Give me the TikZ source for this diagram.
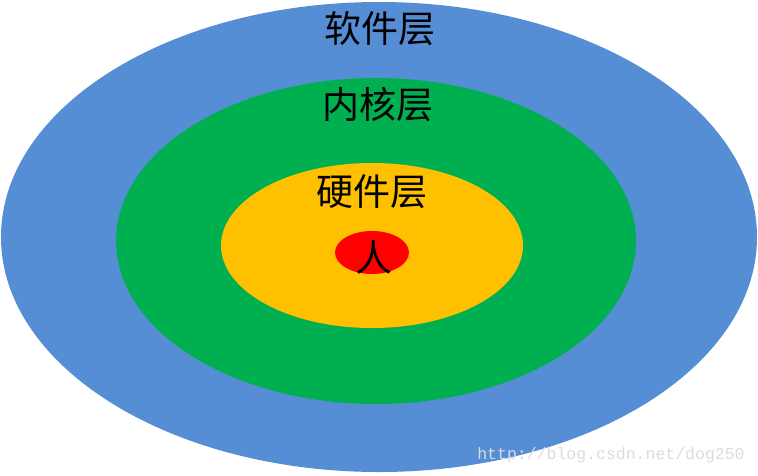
\documentclass[tikz,border=0pt]{standalone}
\usepackage{fontspec}
\newfontfamily\cjk{Noto Sans CJK SC}
\newfontfamily\wmfont{Liberation Mono}
\definecolor{outerblue}{HTML}{558ED5}
\definecolor{kgreen}{HTML}{00B050}
\definecolor{hyellow}{HTML}{FFC000}
\definecolor{pred}{HTML}{FF0000}
\definecolor{wmgray}{HTML}{DCDCDC}
\tikzset{
  layerlabel/.style={font=\cjk\fontsize{37}{40}\selectfont, text=black, inner sep=0pt},
  layer/.style={draw=none}
}
\begin{document}
\begin{tikzpicture}[x=1pt,y=-1pt]
\useasboundingbox (0,0) rectangle (758,475);
\fill[white] (0,0) rectangle (758,475);
\fill[outerblue] (379,237) ellipse [x radius=378, y radius=235];
\fill[kgreen] (376,241) ellipse [x radius=260, y radius=163];
\fill[hyellow] (372,245.5) ellipse [x radius=151, y radius=82.5];
\fill[pred] (372,252.5) ellipse [x radius=37, y radius=21.5];
\node[layerlabel] (soft) at (380,29) {软件层};
\node[layerlabel] (kern) at (378,105) {内核层};
\node[layerlabel] (hard) at (372,192) {硬件层};
\node[layerlabel] (ren) at (374,257) {人};
\node[font=\wmfont\fontsize{16.5}{18}\selectfont, text=wmgray, inner sep=0pt] (wm) at (611,455) {http://blog.csdn.net/dog250};
\end{tikzpicture}
\end{document}
